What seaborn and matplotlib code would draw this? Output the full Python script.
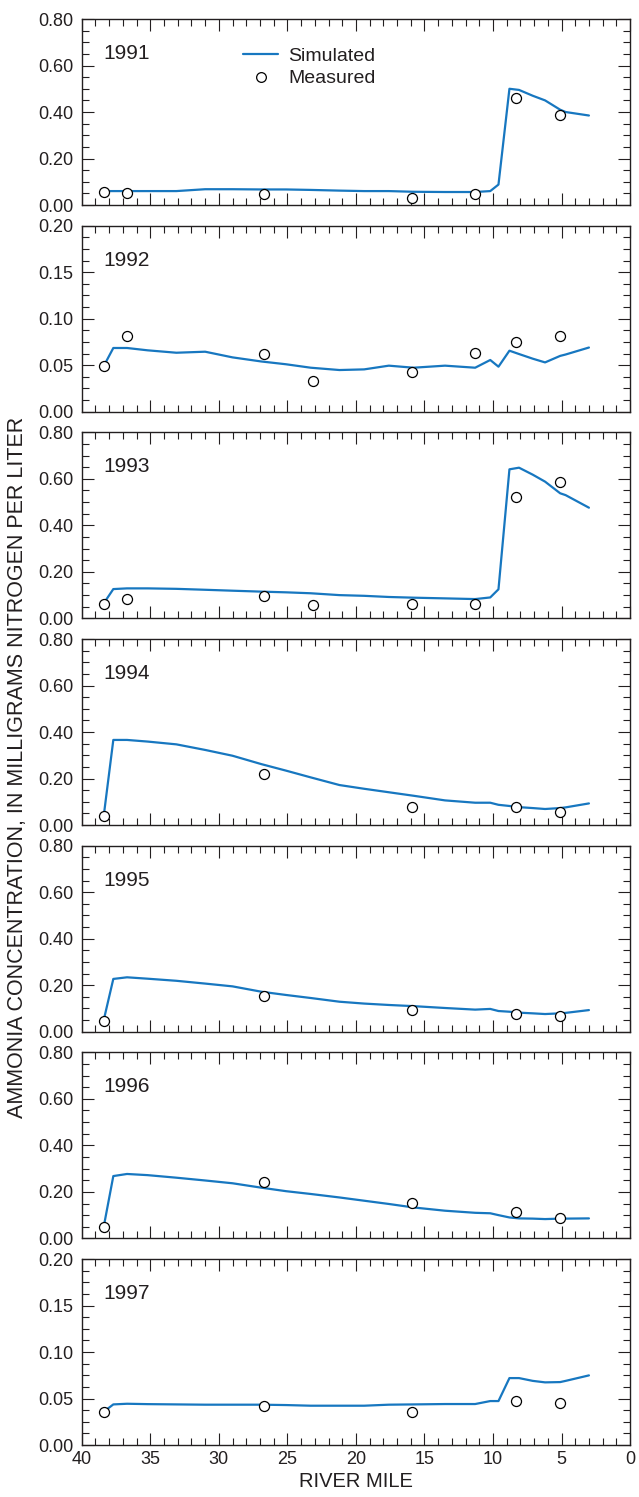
import numpy as np
import pandas as pd
import matplotlib
matplotlib.use("Agg")
import matplotlib.pyplot as plt
from matplotlib.ticker import MultipleLocator, FormatStrFormatter
from matplotlib.lines import Line2D
import seaborn as sns

# River miles of the simulation output nodes (shared by every year)
sim_mile = [38.4, 37.7, 36.7, 35.2, 33.1, 31.0, 29.0, 26.9, 25.1, 23.3, 21.2, 19.4,
            17.6, 15.8, 13.5, 11.3, 10.2, 9.6, 8.8, 8.1, 7.1, 6.2, 5.1, 4.7, 3.0]

sim_1991 = [0.060, 0.060, 0.060, 0.060, 0.060, 0.068, 0.068, 0.067, 0.067, 0.065, 0.062, 0.060,
            0.060, 0.057, 0.056, 0.056, 0.060, 0.088, 0.500, 0.495, 0.470, 0.450, 0.410, 0.400, 0.385]
sim_1992 = [0.049, 0.0685, 0.0685, 0.066, 0.0634, 0.0645, 0.0584, 0.054, 0.051, 0.0473, 0.0448, 0.0455,
            0.0495, 0.0473, 0.0495, 0.0473, 0.0556, 0.0484, 0.0656, 0.062, 0.057, 0.053, 0.060, 0.0615, 0.069]
sim_1993 = [0.0645, 0.126, 0.129, 0.129, 0.127, 0.123, 0.119, 0.115, 0.112, 0.108, 0.100, 0.097,
            0.092, 0.089, 0.086, 0.083, 0.090, 0.125, 0.641, 0.648, 0.618, 0.588, 0.538, 0.530, 0.476]
sim_1994 = [0.039, 0.366, 0.366, 0.359, 0.347, 0.323, 0.298, 0.262, 0.234, 0.205, 0.172, 0.156,
            0.141, 0.126, 0.106, 0.096, 0.096, 0.087, 0.082, 0.077, 0.073, 0.069, 0.073, 0.076, 0.093]
sim_1995 = [0.050, 0.227, 0.234, 0.228, 0.219, 0.207, 0.195, 0.172, 0.158, 0.145, 0.129, 0.121,
            0.115, 0.110, 0.102, 0.095, 0.098, 0.089, 0.086, 0.082, 0.079, 0.076, 0.079, 0.081, 0.093]
sim_1996 = [0.050, 0.268, 0.277, 0.272, 0.261, 0.249, 0.237, 0.218, 0.203, 0.191, 0.176, 0.162,
            0.148, 0.133, 0.119, 0.110, 0.108, 0.100, 0.090, 0.086, 0.085, 0.083, 0.085, 0.085, 0.086]
sim_1997 = [0.0358, 0.0437, 0.0444, 0.0440, 0.0437, 0.0434, 0.0434, 0.0434, 0.0430, 0.0423, 0.0423, 0.0423,
            0.0434, 0.0437, 0.0441, 0.0441, 0.0473, 0.0473, 0.072, 0.072, 0.069, 0.0674, 0.0677, 0.069, 0.0749]

# Sampling sites and measured concentrations
meas_mile_1991 = [38.4, 36.7, 26.7, 15.9, 11.3, 8.3, 5.1]
meas_1991 = [0.058, 0.051, 0.048, 0.030, 0.046, 0.462, 0.386]
meas_mile_1992 = [38.4, 36.7, 26.7, 23.1, 15.9, 11.3, 8.3, 5.1]
meas_1992 = [0.049, 0.0817, 0.0624, 0.0333, 0.0427, 0.0634, 0.0745, 0.0817]
meas_mile_1993 = [38.4, 36.7, 26.7, 23.1, 15.9, 11.3, 8.3, 5.1]
meas_1993 = [0.062, 0.085, 0.096, 0.056, 0.062, 0.062, 0.523, 0.587]
meas_mile_late = [38.4, 26.7, 15.9, 8.3, 5.1]
meas_1994 = [0.039, 0.218, 0.077, 0.077, 0.056]
meas_1995 = [0.044, 0.152, 0.092, 0.075, 0.066]
meas_1996 = [0.047, 0.241, 0.152, 0.112, 0.089]
meas_1997 = [0.036, 0.042, 0.036, 0.047, 0.0455]

years = ["1991", "1992", "1993", "1994", "1995", "1996", "1997"]
sims = [sim_1991, sim_1992, sim_1993, sim_1994, sim_1995, sim_1996, sim_1997]
meas_miles = [meas_mile_1991, meas_mile_1992, meas_mile_1993,
              meas_mile_late, meas_mile_late, meas_mile_late, meas_mile_late]
meas = [meas_1991, meas_1992, meas_1993, meas_1994, meas_1995, meas_1996, meas_1997]
y_max = [0.8, 0.2, 0.8, 0.8, 0.8, 0.8, 0.2]

sns.set_theme(style="ticks")
plt.rcParams["font.family"] = ["Liberation Sans", "DejaVu Sans"]
plt.rcParams["axes.linewidth"] = 1.0

LINE_COLOR = "#1777c0"
TEXT_COLOR = "#231f20"

fig, axes = plt.subplots(7, 1, figsize=(6.39, 14.97), dpi=100, sharex=False)
fig.subplots_adjust(left=0.128, right=0.986, top=0.9873, bottom=0.0347, hspace=0.111)

for i, ax in enumerate(axes):
    sim_df = pd.DataFrame({"mile": sim_mile, "conc": sims[i]})
    meas_df = pd.DataFrame({"mile": meas_miles[i], "conc": meas[i]})
    sns.lineplot(data=sim_df, x="mile", y="conc", ax=ax, color=LINE_COLOR,
                 linewidth=1.6, sort=False, estimator=None)
    sns.scatterplot(data=meas_df, x="mile", y="conc", ax=ax, marker="o", s=52,
                    facecolor="white", edgecolor="black", linewidth=0.9, zorder=3)

    ax.set_xlim(40, 0)
    ax.set_ylim(0, y_max[i])
    ax.xaxis.set_major_locator(MultipleLocator(5))
    ax.xaxis.set_minor_locator(MultipleLocator(1))
    major = y_max[i] / 4
    ax.yaxis.set_major_locator(MultipleLocator(major))
    ax.yaxis.set_minor_locator(MultipleLocator(major / 4))
    ax.yaxis.set_major_formatter(FormatStrFormatter("%.2f"))
    ax.tick_params(which="both", direction="in", top=True, right=True,
                   colors=TEXT_COLOR, labelcolor=TEXT_COLOR)
    ax.tick_params(which="major", length=8.5, width=0.8, labelsize=13)
    ax.tick_params(which="minor", length=5, width=0.8)
    ax.tick_params(axis="y", which="major", pad=6)
    ax.tick_params(axis="x", which="major", pad=4.5)
    ax.set_xlabel("")
    ax.set_ylabel("")
    if i < len(axes) - 1:
        ax.tick_params(axis="x", labelbottom=False)
    for sp in ax.spines.values():
        sp.set_color(TEXT_COLOR)
    ax.text(0.04, 0.815, years[i], transform=ax.transAxes, fontsize=15,
            ha="left", va="center", color=TEXT_COLOR)

axes[-1].set_xlabel("RIVER MILE", fontsize=14.5, color=TEXT_COLOR, labelpad=3)

handles = [
    Line2D([], [], color=LINE_COLOR, linewidth=1.6),
    Line2D([], [], linestyle="none", marker="o", markersize=7, markerfacecolor="white",
           markeredgecolor="black", markeredgewidth=0.9),
]
axes[0].legend(handles, ["Simulated", "Measured"], loc="upper left",
               bbox_to_anchor=(0.277, 0.9), frameon=False, fontsize=14,
               handlelength=1.8, handletextpad=0.5, labelspacing=0.25, borderpad=0,
               labelcolor=TEXT_COLOR)

fig.text(0.028, 1 - 767 / 1497, "AMMONIA CONCENTRATION, IN MILLIGRAMS NITROGEN PER LITER",
         rotation=90, ha="center", va="center", fontsize=15.5, color=TEXT_COLOR)

fig.savefig("out.png", dpi=100)
